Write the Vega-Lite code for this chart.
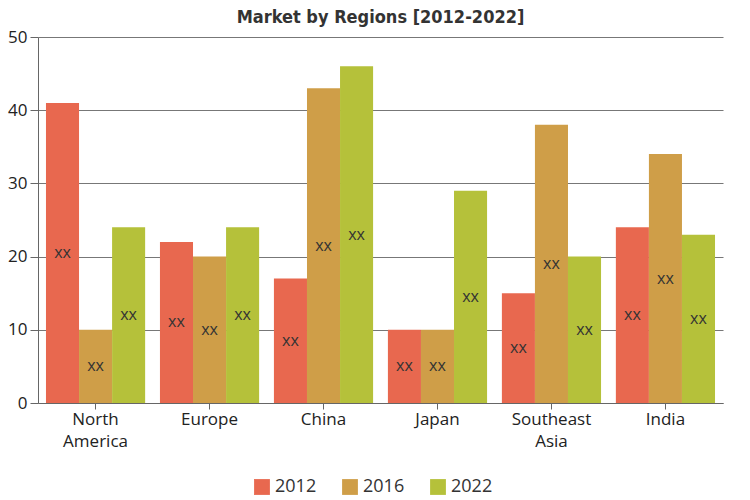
{
  "$schema": "https://vega.github.io/schema/vega-lite/v6.json",
  "autosize": {"type": "none"},
  "width": 685,
  "height": 366,
  "padding": {"left": 38, "right": 27, "top": 37, "bottom": 97},
  "title": {
    "text": "Market by Regions [2012-2022]",
    "font": "DejaVu Sans Condensed",
    "fontSize": 18,
    "fontWeight": "bold",
    "color": "#333333",
    "anchor": "middle",
    "offset": 1
  },
  "config": {
    "view": {"stroke": null},
    "font": "Open Sans"
  },
  "data": {
    "values": [
      {"region": "North America", "year": "2012", "value": 41, "label": "xx"},
      {"region": "North America", "year": "2016", "value": 10, "label": "xx"},
      {"region": "North America", "year": "2022", "value": 24, "label": "xx"},
      {"region": "Europe", "year": "2012", "value": 22, "label": "xx"},
      {"region": "Europe", "year": "2016", "value": 20, "label": "xx"},
      {"region": "Europe", "year": "2022", "value": 24, "label": "xx"},
      {"region": "China", "year": "2012", "value": 17, "label": "xx"},
      {"region": "China", "year": "2016", "value": 43, "label": "xx"},
      {"region": "China", "year": "2022", "value": 46, "label": "xx"},
      {"region": "Japan", "year": "2012", "value": 10, "label": "xx"},
      {"region": "Japan", "year": "2016", "value": 10, "label": "xx"},
      {"region": "Japan", "year": "2022", "value": 29, "label": "xx"},
      {"region": "Southeast Asia", "year": "2012", "value": 15, "label": "xx"},
      {"region": "Southeast Asia", "year": "2016", "value": 38, "label": "xx"},
      {"region": "Southeast Asia", "year": "2022", "value": 20, "label": "xx"},
      {"region": "India", "year": "2012", "value": 24, "label": "xx"},
      {"region": "India", "year": "2016", "value": 34, "label": "xx"},
      {"region": "India", "year": "2022", "value": 23, "label": "xx"}
    ]
  },
  "encoding": {
    "x": {
      "field": "region",
      "type": "nominal",
      "sort": ["North America", "Europe", "China", "Japan", "Southeast Asia", "India"],
      "scale": {"paddingInner": 0.13, "paddingOuter": 0.07},
      "axis": {
        "title": null,
        "labelAngle": 0,
        "labelFontSize": 17,
        "labelColor": "#222222",
        "labelExpr": "datum.value == 'North America' ? ['North', 'America'] : datum.value == 'Southeast Asia' ? ['Southeast', 'Asia'] : datum.value",
        "labelLineHeight": 22,
        "labelPadding": 2,
        "domainColor": "#666666",
        "tickColor": "#666666",
        "tickSize": 6,
        "grid": false
      }
    },
    "xOffset": {"field": "year", "type": "nominal", "scale": {"paddingInner": 0, "paddingOuter": 0}},
    "y": {
      "field": "value",
      "type": "quantitative",
      "scale": {"domain": [0, 50]},
      "axis": {
        "title": null,
        "values": [0, 10, 20, 30, 40, 50],
        "labelFontSize": 17,
        "labelColor": "#222222",
        "labelPadding": 3,
        "domainColor": "#666666",
        "tickColor": "#666666",
        "tickSize": 8,
        "gridColor": "#555555",
        "gridOpacity": 0.8
      }
    }
  },
  "layer": [
    {
      "mark": {"type": "bar"},
      "encoding": {
        "color": {
          "field": "year",
          "type": "nominal",
          "scale": {"domain": ["2012", "2016", "2022"], "range": ["#E8684F", "#CF9E48", "#B5C13A"]},
          "legend": {
            "title": null,
            "orient": "none",
            "legendX": 215,
            "legendY": 441,
            "direction": "horizontal",
            "symbolType": "square",
            "symbolSize": 250,
            "symbolStrokeWidth": 0,
            "labelFontSize": 18,
            "labelColor": "#333333",
            "columnPadding": 24
          }
        }
      }
    },
    {
      "transform": [{"calculate": "datum.value / 2", "as": "mid"}],
      "mark": {"type": "text", "fontSize": 16, "color": "#333333", "baseline": "middle"},
      "encoding": {
        "y": {"field": "mid", "type": "quantitative"},
        "text": {"field": "label"}
      }
    }
  ]
}
